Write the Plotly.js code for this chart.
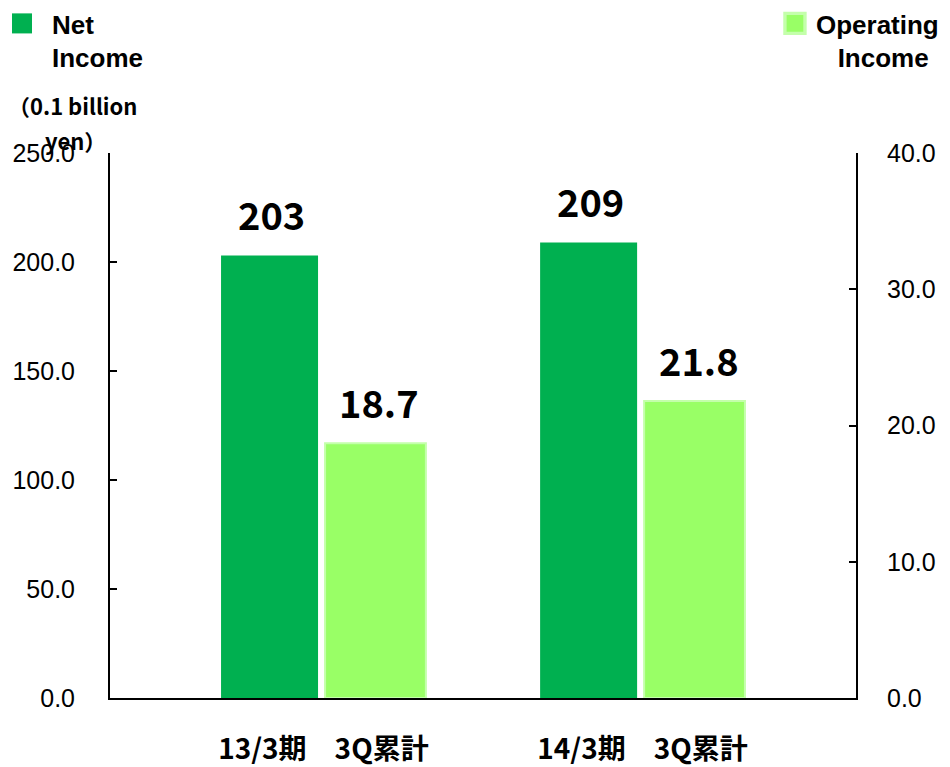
<!DOCTYPE html>
<html>
<head>
<meta charset="utf-8">
<script src="https://cdn.plot.ly/plotly-3.0.1.min.js"></script>
<style>html,body{margin:0;padding:0;background:#fff;}</style>
</head>
<body>
<div id="chart" style="width:950px;height:767px;"></div>
<script>
const categories = ['13/3期\u30003Q累計', '14/3期\u30003Q累計'];
const netIncome = [203, 209];
const operatingIncome = [18.7, 21.8];
const netLabels = ['203', '209'];
const opLabels = ['18.7', '21.8'];
const leftTicks = [0, 50, 100, 150, 200, 250];
const rightTicks = [0, 10, 20, 30, 40];

const NET_COLOR = '#00B050';
const OP_COLOR = '#99FF66';
const labelFont = {family: 'Noto Sans CJK JP', size: 38, color: '#000', weight: 'bold'};

const traces = [
  {
    type: 'bar', name: 'Net<br>Income', x: categories, y: netIncome,
    width: 0.304, offset: -0.321,
    marker: {color: NET_COLOR, line: {color: NET_COLOR, width: 0}},
    legend: 'legend', hoverinfo: 'y'
  },
  {
    type: 'bar', name: 'Operating<br>&nbsp;&nbsp;&nbsp;Income', x: categories, y: operatingIncome,
    yaxis: 'y2', width: 0.316, offset: 0.005,
    marker: {color: OP_COLOR, line: {color: '#c4ffab', width: 2}},
    legend: 'legend2', hoverinfo: 'y'
  }
];

const annotations = [];
categories.forEach((c, i) => {
  annotations.push({x: c, y: netIncome[i], xref: 'x', yref: 'y', text: netLabels[i],
    showarrow: false, yanchor: 'bottom', xshift: -52, yshift: 12, font: labelFont});
  annotations.push({x: c, y: operatingIncome[i], xref: 'x', yref: 'y2', text: opLabels[i],
    showarrow: false, yanchor: 'bottom', xshift: 56, yshift: 12, font: labelFont});
});
const unitFont = {family: 'Noto Sans CJK JP', size: 22, color: '#000', weight: 'bold'};
annotations.push({xref: 'paper', yref: 'paper', x: -0.05, y: 1.088, text: '（0.1 billion',
  showarrow: false, xanchor: 'center', yanchor: 'middle', font: unitFont});
annotations.push({xref: 'paper', yref: 'paper', x: -0.046, y: 1.024, text: 'yen）',
  showarrow: false, xanchor: 'center', yanchor: 'middle', font: unitFont});

const tickFont = {family: 'Liberation Sans, Arial, sans-serif', size: 25, color: '#000'};
const legendFont = {family: 'Liberation Sans, Arial, sans-serif', size: 26, color: '#000', weight: 'bold'};

const layout = {
  width: 950, height: 767,
  margin: {l: 110, r: 94, t: 153, b: 69, autoexpand: false},
  paper_bgcolor: '#fff', plot_bgcolor: '#fff',
  showlegend: true,
  legend: {xref: 'container', yref: 'container', x: 0.0126, y: 1.006, xanchor: 'left', yanchor: 'top',
    font: legendFont, valign: 'top', bgcolor: 'rgba(0,0,0,0)', borderwidth: 0},
  legend2: {xref: 'container', yref: 'container', x: 0.8168, y: 1.006, xanchor: 'left', yanchor: 'top',
    font: legendFont, valign: 'top', bgcolor: 'rgba(0,0,0,0)', borderwidth: 0},
  xaxis: {
    type: 'category', range: [-0.669, 1.669], showline: true, linecolor: '#000', linewidth: 2,
    ticks: '', showgrid: false, zeroline: false,
    tickfont: {family: 'Noto Sans CJK JP', size: 28, color: '#000', weight: 'bold'},
    ticklabelstandoff: 25, fixedrange: true
  },
  yaxis: {
    range: [0, 250], tickvals: leftTicks, tickformat: '.1f', showline: true, linecolor: '#000', linewidth: 2,
    ticks: 'inside', ticklen: 7, tickwidth: 2, tickcolor: '#000', showgrid: false, zeroline: false,
    tickfont: tickFont, ticklabelstandoff: 28, fixedrange: true
  },
  yaxis2: {
    range: [0, 40], tickvals: rightTicks, tickformat: '.1f', overlaying: 'y', side: 'right',
    showline: true, linecolor: '#000', linewidth: 2,
    ticks: 'inside', ticklen: 7, tickwidth: 2, tickcolor: '#000', showgrid: false, zeroline: false,
    tickfont: tickFont, ticklabelstandoff: 24, fixedrange: true
  },
  annotations: annotations
};

Plotly.newPlot('chart', traces, layout, {displayModeBar: false, staticPlot: true}).then(() => {
  document.querySelectorAll('g.legend .legendpoints path').forEach(p => {
    p.setAttribute('transform', 'translate(10,0) scale(1.67)');
  });
  document.querySelectorAll('g.legend2 .legendpoints path').forEach(p => {
    p.setAttribute('transform', 'translate(19,0) scale(1.67)');
  });
});
</script>
</body>
</html>
